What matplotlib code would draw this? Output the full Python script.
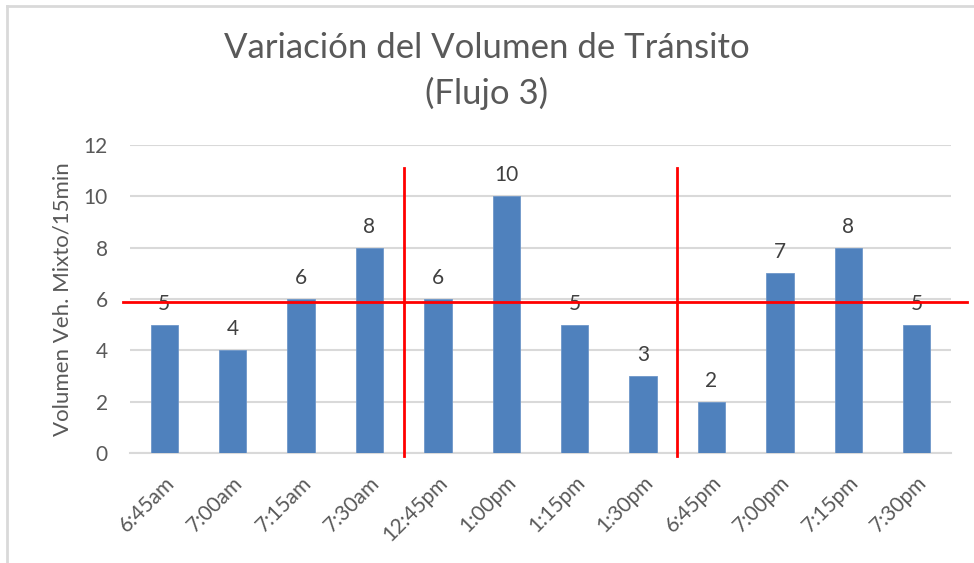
import matplotlib
matplotlib.use("Agg")
import matplotlib.pyplot as plt
from matplotlib.lines import Line2D

categories = ["6:45am", "7:00am", "7:15am", "7:30am", "12:45pm", "1:00pm",
              "1:15pm", "1:30pm", "6:45pm", "7:00pm", "7:15pm", "7:30pm"]
values = [5, 4, 6, 8, 6, 10, 5, 3, 2, 7, 8, 5]
yticks = [0, 2, 4, 6, 8, 10, 12]
ref_level = 5.9
separators = [3.5, 7.5]

plt.rcParams['font.family'] = ['Lato', 'DejaVu Sans']
W, H = 974, 563
fig = plt.figure(figsize=(W / 100, H / 100), dpi=100)
ax = fig.add_axes([130 / W, 1 - 453 / H, (951 - 130) / W, (453 - 145) / H])

gray = "#595959"
x = list(range(len(categories)))
ax.bar(x, values, width=0.4, color="#4f81bd", edgecolor="#6f97c9", linewidth=0.6, zorder=3)
ax.set_xlim(-0.5, len(categories) - 0.5)
ax.set_ylim(0, 12)
ax.set_yticks(yticks)
ax.set_xticks(x)
ax.set_xticklabels(categories, rotation=45, ha="right", va="top",
                   rotation_mode="anchor", fontsize=15, color=gray)
ax.tick_params(axis="x", length=0, pad=14)
ax.tick_params(axis="y", length=0, pad=16, labelsize=15, labelcolor=gray)
ax.grid(axis="y", color="#d9d9d9", linewidth=1.5, zorder=0)
for s in ["top", "right", "left"]:
    ax.spines[s].set_visible(False)
ax.spines["bottom"].set_color("#d9d9d9")
ax.spines["bottom"].set_linewidth(1.5)

for xi, v in zip(x, values):
    ax.annotate(str(v), (xi, v), xytext=(0, 8), textcoords="offset points",
                ha="center", va="bottom", fontsize=15, color="#404040", zorder=4)

ax.set_ylabel("Volumen Veh. Mixto/15min", fontsize=16, color=gray, labelpad=8)

# red reference lines (extend beyond axes)
ax.axhline(ref_level, xmin=-0.009, xmax=1.02, color="red", linewidth=2, zorder=5, clip_on=False)
for sx in separators:
    ax.plot([sx, sx], [-0.1, 11.1], color="red", linewidth=2, zorder=5, clip_on=False)

fig.text(0.5, 1 - 48 / H, "Variación del Volumen de Tránsito", ha="center", va="center",
         fontsize=25, color=gray)
fig.text(0.5, 1 - 93 / H, "(Flujo 3)", ha="center", va="center", fontsize=25, color=gray)

# outer frame
fig.add_artist(Line2D([7 / W, 1], [1 - 6 / H, 1 - 6 / H], color="#d9d9d9", linewidth=2,
                      transform=fig.transFigure))
fig.add_artist(Line2D([7 / W, 7 / W], [0, 1 - 6 / H], color="#d9d9d9", linewidth=2,
                      transform=fig.transFigure))

fig.savefig("out.png", dpi=100)
